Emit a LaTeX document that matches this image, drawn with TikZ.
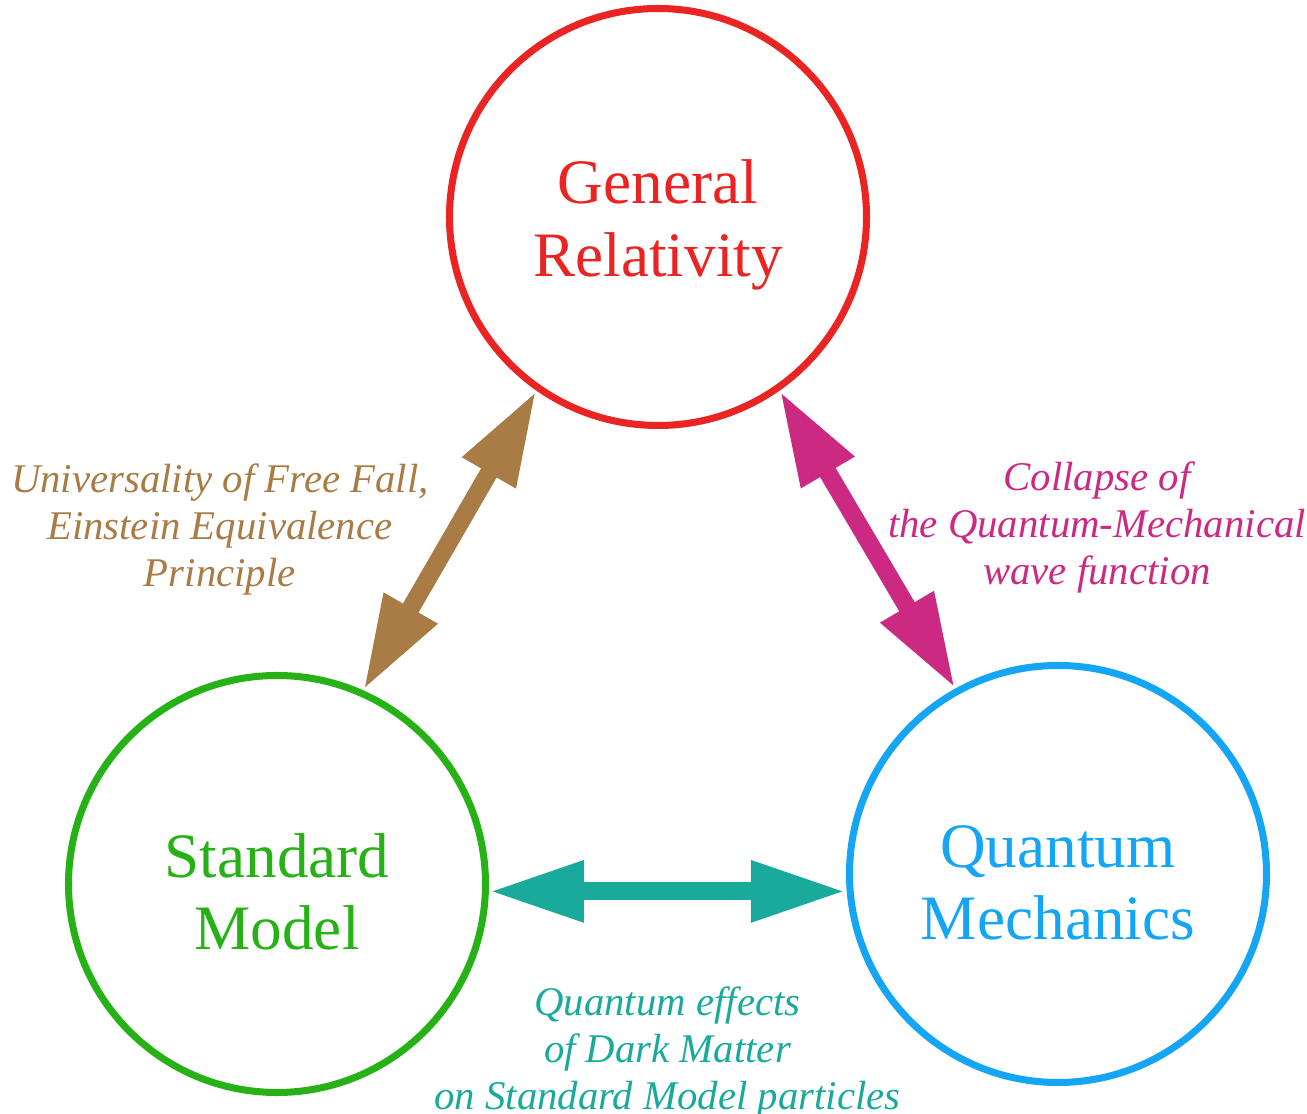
\documentclass[tikz,border=0pt]{standalone}
\usepackage{fontspec}
\setmainfont{Liberation Serif}
\usepackage{xcolor}
\usetikzlibrary{arrows.meta, positioning}

\definecolor{grred}{RGB}{233,36,34}
\definecolor{smgreen}{RGB}{38,178,22}
\definecolor{qmblue}{RGB}{20,165,245}
\definecolor{eepbrown}{RGB}{168,124,68}
\definecolor{wfmagenta}{RGB}{204,42,130}
\definecolor{dmteal}{RGB}{26,170,155}

\newcommand{\topstrut}{\rule{0pt}{17pt}}

\begin{document}
\begin{tikzpicture}[
  theory/.style={circle, draw, line width=2pt, minimum size=4.17cm, align=center, font=\fontsize{18}{20.6}\selectfont},
  link/.style={<->, >={Triangle[length=0.95cm, width=0.57cm]}, line width=0.18cm},
  note/.style={align=center, font=\fontsize{11.6}{13.4}\selectfont\itshape}
]
  \useasboundingbox (0,0) rectangle (13.07,11.14);

  \node[theory, draw=grred, text=grred] (gr) at (6.58,8.97) {\topstrut General\\Relativity};
  \node[theory, draw=smgreen, text=smgreen] (sm) at (2.77,2.30) {\topstrut Standard\\Model};
  \node[theory, draw=qmblue, text=qmblue] (qm) at (10.58,2.40) {\topstrut Quantum\\Mechanics};

  \draw[link, eepbrown] (sm.66) -- node[note, text=eepbrown, pos=0.537, left=0.07cm] {Universality of Free Fall,\\Einstein Equivalence\\Principle} (gr.235);
  \draw[link, wfmagenta] (gr.305) -- node[note, text=wfmagenta, pos=0.46, right=0.07cm] {Collapse of\\the Quantum-Mechanical\\wave function} (qm.119);
  \draw[link, dmteal] (sm.358) -- node[note, text=dmteal, below=0.75cm] {Quantum effects\\of Dark Matter\\on Standard Model particles} (sm.358 -| qm.west);
\end{tikzpicture}
\end{document}
